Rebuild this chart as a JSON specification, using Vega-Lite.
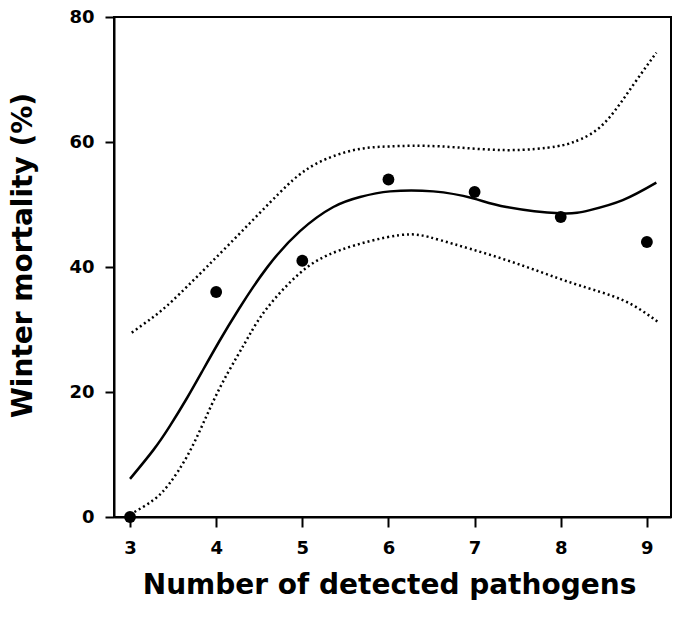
{
  "$schema": "https://vega.github.io/schema/vega-lite/v6.json",
  "width": 557,
  "height": 500,
  "autosize": {"type": "none"},
  "padding": {"left": 114, "top": 17, "right": 7, "bottom": 107},
  "background": "white",
  "config": {
    "view": {"stroke": "black", "strokeWidth": 2},
    "font": "DejaVu Sans",
    "axis": {
      "domainColor": "black", "domainWidth": 2,
      "tickColor": "black", "tickWidth": 2,
      "labelFont": "DejaVu Sans", "labelFontWeight": "bold", "labelFontSize": 18, "labelColor": "black",
      "titleFont": "DejaVu Sans", "titleFontWeight": "bold", "titleFontSize": 28, "titleColor": "black",
      "grid": false
    }
  },
  "datasets": {
    "pts": [
      {"n": 3, "m": 0}, {"n": 4, "m": 36}, {"n": 5, "m": 41}, {"n": 6, "m": 54},
      {"n": 7, "m": 52}, {"n": 8, "m": 48}, {"n": 9, "m": 44}
    ],
    "fit": [
      {"n": 3.0, "m": 6.1}, {"n": 3.27, "m": 10.7}, {"n": 3.46, "m": 14.5}, {"n": 3.66, "m": 19.0},
      {"n": 3.85, "m": 23.6}, {"n": 4.04, "m": 28.2}, {"n": 4.26, "m": 33.2}, {"n": 4.59, "m": 39.9},
      {"n": 4.97, "m": 45.7}, {"n": 5.36, "m": 49.6}, {"n": 5.67, "m": 51.2},
      {"n": 6.02, "m": 52.1}, {"n": 6.52, "m": 52.1}, {"n": 6.98, "m": 51.0},
      {"n": 7.37, "m": 49.6}, {"n": 7.99, "m": 48.6}, {"n": 8.34, "m": 49.1},
      {"n": 8.72, "m": 50.7}, {"n": 9.11, "m": 53.5}
    ],
    "upper": [
      {"n": 3.02, "m": 29.5}, {"n": 3.27, "m": 32.0}, {"n": 3.5, "m": 34.7}, {"n": 3.89, "m": 40.0},
      {"n": 4.39, "m": 47.0}, {"n": 4.82, "m": 53.0}, {"n": 5.05, "m": 55.6}, {"n": 5.28, "m": 57.3},
      {"n": 5.63, "m": 58.8}, {"n": 6.02, "m": 59.3}, {"n": 6.6, "m": 59.3}, {"n": 7.37, "m": 58.7},
      {"n": 7.95, "m": 59.3}, {"n": 8.15, "m": 60.0}, {"n": 8.34, "m": 61.2}, {"n": 8.57, "m": 64.0},
      {"n": 8.84, "m": 69.1}, {"n": 9.11, "m": 74.3}
    ],
    "lower": [
      {"n": 3.0, "m": 0.4}, {"n": 3.27, "m": 2.7}, {"n": 3.46, "m": 5.4}, {"n": 3.66, "m": 9.65},
      {"n": 3.85, "m": 15.0}, {"n": 4.04, "m": 20.6}, {"n": 4.24, "m": 25.6}, {"n": 4.39, "m": 29.2},
      {"n": 4.59, "m": 33.4}, {"n": 4.97, "m": 39.0}, {"n": 5.44, "m": 42.7}, {"n": 6.13, "m": 45.1},
      {"n": 6.6, "m": 44.3}, {"n": 7.37, "m": 41.1}, {"n": 8.14, "m": 37.4}, {"n": 8.72, "m": 34.7},
      {"n": 9.13, "m": 31.2}
    ]
  },
  "encoding": {
    "x": {
      "field": "n", "type": "quantitative",
      "scale": {"domain": [2.814, 9.28], "nice": false, "zero": false},
      "axis": {
        "values": [3, 4, 5, 6, 7, 8, 9], "tickSize": 10, "labelPadding": 12,
        "title": "Number of detected pathogens",
        "titleX": 275, "titleY": 76, "titleBaseline": "alphabetic", "titleAlign": "center"
      }
    },
    "y": {
      "field": "m", "type": "quantitative",
      "scale": {"domain": [0, 80], "nice": false},
      "axis": {
        "values": [0, 20, 40, 60, 80], "tickSize": 9, "labelPadding": 11,
        "title": "Winter mortality (%)",
        "titleX": -91, "titleY": 238, "titleAngle": -90, "titleBaseline": "middle", "titleAlign": "center"
      }
    }
  },
  "layer": [
    {
      "data": {"name": "upper"},
      "mark": {"type": "line", "interpolate": "natural", "color": "black", "strokeWidth": 2.5, "strokeDash": [2, 3]}
    },
    {
      "data": {"name": "lower"},
      "mark": {"type": "line", "interpolate": "natural", "color": "black", "strokeWidth": 2.5, "strokeDash": [2, 3]}
    },
    {
      "data": {"name": "fit"},
      "mark": {"type": "line", "interpolate": "natural", "color": "black", "strokeWidth": 2.5}
    },
    {
      "data": {"name": "pts"},
      "mark": {"type": "point", "filled": true, "color": "black", "opacity": 1, "size": 140}
    }
  ]
}
